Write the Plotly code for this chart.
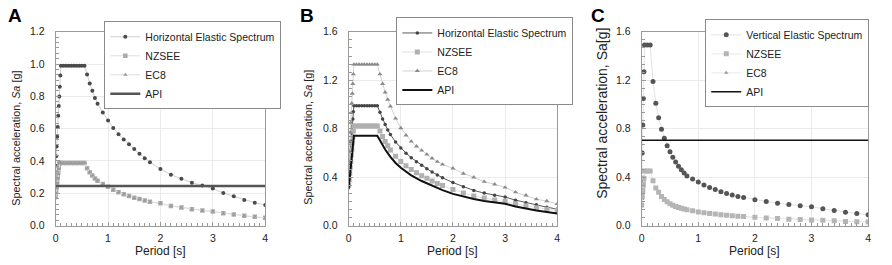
import plotly.graph_objects as go

# ---------------- DATA ----------------
# Panel A
T_A = [0, 0.01, 0.02, 0.03, 0.04, 0.05, 0.06, 0.07, 0.08, 0.09,
       0.1, 0.15, 0.2, 0.25, 0.3, 0.35, 0.4, 0.45, 0.5, 0.55,
       0.6, 0.65, 0.7, 0.75, 0.8, 0.9, 1.0, 1.1, 1.2, 1.3, 1.4, 1.5, 1.6, 1.7, 1.8,
       2.0, 2.2, 2.4, 2.6, 2.8, 3.0, 3.2, 3.4, 3.6, 3.8, 4.0]
hz_A = [0.37, 0.43, 0.49, 0.55, 0.61, 0.68, 0.74, 0.80, 0.86, 0.93,
        0.99, 0.99, 0.99, 0.99, 0.99, 0.99, 0.99, 0.99, 0.99, 0.99,
        0.936, 0.88, 0.835, 0.79, 0.755, 0.70, 0.65, 0.605, 0.565, 0.533, 0.503, 0.474, 0.445, 0.417, 0.392,
        0.35, 0.315, 0.29, 0.266, 0.248, 0.23, 0.201, 0.181, 0.158, 0.142, 0.128]
nz_A = [0.18, 0.21, 0.24, 0.27, 0.30, 0.33, 0.36, 0.388, 0.388, 0.388,
        0.388, 0.388, 0.388, 0.388, 0.388, 0.388, 0.388, 0.388, 0.388, 0.388,
        0.355, 0.33, 0.31, 0.292, 0.277, 0.257, 0.24, 0.222, 0.206, 0.194, 0.183, 0.173, 0.164, 0.155, 0.147,
        0.138, 0.122, 0.112, 0.101, 0.094, 0.087, 0.077, 0.069, 0.061, 0.054, 0.048]
ec8_A = [0.17, 0.20, 0.23, 0.26, 0.29, 0.32, 0.35, 0.385, 0.388, 0.388,
         0.388, 0.388, 0.388, 0.388, 0.388, 0.388, 0.388, 0.388, 0.388, 0.388,
         0.355, 0.33, 0.31, 0.292, 0.277, 0.257, 0.24, 0.222, 0.206, 0.194, 0.183, 0.173, 0.164, 0.155, 0.147,
         0.138, 0.122, 0.112, 0.101, 0.094, 0.087, 0.077, 0.069, 0.061, 0.054, 0.048]
api_T_A = [0, 4]
api_A = [0.245, 0.245]

# Panel B
T_B = T_A
hz_B = [0.40, 0.46, 0.52, 0.58, 0.64, 0.70, 0.76, 0.82, 0.88, 0.94,
        0.99, 0.99, 0.99, 0.99, 0.99, 0.99, 0.99, 0.99, 0.99, 0.99,
        0.935, 0.88, 0.835, 0.79, 0.752, 0.69, 0.64, 0.598, 0.56, 0.528, 0.498, 0.47, 0.443, 0.418, 0.395,
        0.355, 0.32, 0.29, 0.268, 0.25, 0.236, 0.21, 0.189, 0.171, 0.152, 0.136]
nz_B = [0.33, 0.38, 0.43, 0.48, 0.53, 0.58, 0.63, 0.68, 0.73, 0.78,
        0.822, 0.822, 0.822, 0.822, 0.822, 0.822, 0.822, 0.822, 0.822, 0.822,
        0.78, 0.735, 0.695, 0.66, 0.625, 0.572, 0.53, 0.495, 0.463, 0.437, 0.412, 0.39, 0.368, 0.348, 0.33,
        0.297, 0.268, 0.245, 0.227, 0.212, 0.2, 0.18, 0.163, 0.148, 0.135, 0.124]
ec8_B = [0.53, 0.61, 0.69, 0.77, 0.85, 0.93, 1.01, 1.09, 1.17, 1.25,
         1.33, 1.33, 1.33, 1.33, 1.33, 1.33, 1.33, 1.33, 1.33, 1.33,
         1.25, 1.17, 1.10, 1.04, 0.985, 0.885, 0.805, 0.745, 0.695, 0.655, 0.62, 0.587, 0.555, 0.528, 0.505,
         0.473, 0.43, 0.399, 0.362, 0.341, 0.315, 0.276, 0.25, 0.218, 0.202, 0.179]
api_T_B = [0, 0.1, 0.55, 0.6, 0.7, 0.8, 0.9, 1.0, 1.2, 1.4, 1.6, 1.8, 2.0,
           2.2, 2.4, 2.6, 2.8, 3.0, 3.2, 3.4, 3.6, 3.8, 4.0]
api_B = [0.30, 0.741, 0.741, 0.70, 0.628, 0.567, 0.517, 0.477, 0.415, 0.368, 0.328, 0.293, 0.262,
         0.24, 0.22, 0.203, 0.19, 0.18, 0.158, 0.14, 0.125, 0.112, 0.10]

# Panel C
T_C = [0, 0.01, 0.02, 0.03, 0.04, 0.05, 0.1, 0.15,
       0.2, 0.25, 0.3, 0.35, 0.4, 0.45, 0.5, 0.55, 0.6, 0.65, 0.7, 0.75, 0.8, 0.9,
       1.0, 1.1, 1.2, 1.3, 1.4, 1.5, 1.6, 1.7, 1.8,
       2.0, 2.2, 2.4, 2.6, 2.8, 3.0, 3.2, 3.4, 3.6, 3.8, 4.0]
vt_C = [0.37, 0.6, 0.83, 1.05, 1.27, 1.49, 1.49, 1.49,
        1.19, 1.01, 0.89, 0.795, 0.72, 0.66, 0.61, 0.565, 0.525, 0.49, 0.46, 0.435, 0.41, 0.385,
        0.36, 0.335, 0.315, 0.297, 0.28, 0.265, 0.252, 0.24, 0.232,
        0.213, 0.198, 0.185, 0.174, 0.164, 0.156, 0.139, 0.124, 0.111, 0.1, 0.089]
nz_C = [0.17, 0.24, 0.29, 0.34, 0.39, 0.45, 0.45, 0.45,
        0.37, 0.31, 0.275, 0.24, 0.215, 0.196, 0.18, 0.168, 0.158, 0.15, 0.143, 0.136, 0.13, 0.122,
        0.113, 0.106, 0.1, 0.095, 0.09, 0.086, 0.081, 0.077, 0.074,
        0.068, 0.063, 0.058, 0.053, 0.05, 0.047, 0.044, 0.039, 0.034, 0.031, 0.03]
ec8_C = [0.16, 0.22, 0.27, 0.32, 0.37, 0.45, 0.45, 0.45,
         0.37, 0.31, 0.275, 0.24, 0.215, 0.196, 0.18, 0.168, 0.158, 0.15, 0.143, 0.136, 0.13, 0.122,
         0.113, 0.106, 0.1, 0.095, 0.09, 0.086, 0.081, 0.077, 0.074,
         0.068, 0.063, 0.058, 0.053, 0.05, 0.047, 0.044, 0.039, 0.034, 0.031, 0.03]
api_T_C = [0, 4]
api_C = [0.705, 0.705]

# ---------------- FIGURE ----------------
W, H = 892, 265
FONT = "Arial, Liberation Sans, sans-serif"

def px_x(p):
    return p / W

def px_y(p):
    return 1 - p / H

fig = go.Figure()

def add(x, y, name, ax, leg, mode, mcolor=None, msym=None, msize=None, lcolor=None, lwidth=1, rank=None):
    kw = dict(x=x, y=y, name=name, mode=mode, legend=leg,
              xaxis="x" + ax, yaxis="y" + ax, hoverinfo="skip")
    if rank is not None:
        kw["legendrank"] = rank
    if "markers" in mode:
        kw["marker"] = dict(color=mcolor, symbol=msym, size=msize, line=dict(width=0))
    kw["line"] = dict(color=lcolor, width=lwidth)
    fig.add_trace(go.Scatter(**kw))

# A
add(T_A, hz_A, "Horizontal Elastic Spectrum", "", "legend", "lines+markers", "#4a4a4a", "circle", 4, "#cfcfcf", 1)
add(T_A, nz_A, "NZSEE", "", "legend", "lines+markers", "#ababab", "square", 4.5, "#dedede", 1)
add(T_A, ec8_A, "EC8", "", "legend", "lines+markers", "#9a9a9a", "triangle-up", 4, "#dedede", 1)
add(api_T_A, api_A, "API", "", "legend", "lines", lcolor="#555555", lwidth=2.5)
# B
add(T_B, hz_B, "Horizontal Elastic Spectrum", "2", "legend2", "lines+markers", "#444444", "circle", 3.5, "#5a5a5a", 1)
add(T_B, nz_B, "NZSEE", "2", "legend2", "lines+markers", "#b0b0b0", "square", 5, "#e0e0e0", 1)
add(T_B, ec8_B, "EC8", "2", "legend2", "lines+markers", "#8a8a8a", "triangle-up", 4.5, "#d2d2d2", 1)
add(api_T_B, api_B, "API", "2", "legend2", "lines", lcolor="#111111", lwidth=2)
# C
add(T_C, vt_C, "Vertical Elastic Spectrum", "3", "legend3", "lines+markers", "#555555", "circle", 5, "#e2e2e2", 1, rank=1)
add(T_C, ec8_C, "EC8", "3", "legend3", "lines+markers", "#9a9a9a", "triangle-up", 4, "#e8e8e8", 1, rank=3)
add(T_C, nz_C, "NZSEE", "3", "legend3", "lines+markers", "#b5b5b5", "square", 5, "#e8e8e8", 1, rank=2)
add(api_T_C, api_C, "API", "3", "legend3", "lines", lcolor="#111111", lwidth=1.5, rank=4)

panels = [
    ("", 53, 264, [0, 1.2], 0.2, [0.0, 0.2, 0.4, 0.6, 0.8, 1.0, 1.2]),
    ("2", 348, 558, [0, 1.6], 0.4, [0.0, 0.4, 0.8, 1.2, 1.6]),
    ("3", 643, 871, [0, 1.6], 0.4, [0.0, 0.4, 0.8, 1.2, 1.6]),
]
ytop, ybot = 27, 230
axcommon = dict(showline=True, linecolor="#9a9a9a", linewidth=1, mirror=True,
                showgrid=True, gridcolor="#ebebeb", gridwidth=1, zeroline=False,
                ticks="inside", ticklen=4, tickcolor="#9a9a9a",
                tickfont=dict(family=FONT, size=10.5, color="#222222"))
for ax, x0, x1, yr, dt, yt in panels:
    fig.layout["xaxis" + ax] = dict(axcommon, domain=[px_x(x0), px_x(x1)], anchor="y" + ax,
                                    range=[0, 4], tickmode="array", tickvals=[0, 1, 2, 3, 4],
                                    ticklabelstandoff=3,
                                    minor=dict(dtick=0.1, ticks="inside", ticklen=3, tickcolor="#9a9a9a", showgrid=False))
    fig.layout["yaxis" + ax] = dict(axcommon, domain=[px_y(ybot), px_y(ytop)], anchor="x" + ax,
                                    range=yr, tickmode="array", tickvals=yt,
                                    ticktext=[f"{v:.1f}" for v in yt], ticklabelstandoff=8,
                                    minor=dict(dtick=dt / 6, tick0=0, ticks="inside", ticklen=3,
                                               tickcolor="#9a9a9a", showgrid=False))

legcommon = dict(bgcolor="white", bordercolor="#8a8a8a", borderwidth=1,
                 font=dict(family=FONT, size=10.5, color="#222222"),
                 xanchor="left", yanchor="top", itemwidth=30, tracegroupgap=0)
fig.update_layout(
    width=W, height=H, margin=dict(l=0, r=0, t=0, b=0),
    paper_bgcolor="white", plot_bgcolor="white",
    font=dict(family=FONT, color="#222222"),
    legend=dict(legcommon, x=px_x(102), y=px_y(16)),
    legend2=dict(legcommon, x=px_x(396), y=px_y(12)),
    legend3=dict(legcommon, x=px_x(707), y=px_y(14)),
)

ann = []
for letter, xp in [("A", 3), ("B", 297), ("C", 590)]:
    ann.append(dict(text=f"<b>{letter}</b>", x=px_x(xp), y=px_y(-3), xref="paper", yref="paper",
                    xanchor="left", yanchor="top", showarrow=False,
                    font=dict(family=FONT, size=19, color="black")))
for xc in [(53 + 264) / 2, (348 + 558) / 2, (643 + 871) / 2]:
    ann.append(dict(text="Period [s]", x=px_x(xc), y=px_y(257), xref="paper", yref="paper",
                    xanchor="center", yanchor="middle", showarrow=False,
                    font=dict(family=FONT, size=12, color="#222222")))
for txt, xc, yc, fs in [("Spectral acceleration, <i>Sa</i> [g]", 13, 138, 10.8),
                        ("Spectral acceleration, <i>Sa</i> [g]", 307, 137, 10.8),
                        ("Spectral acceleration, Sa[g]", 603, 112, 14)]:
    ann.append(dict(text=txt, x=px_x(xc), y=px_y(yc), xref="paper", yref="paper",
                    xanchor="center", yanchor="middle", textangle=-90, showarrow=False,
                    font=dict(family=FONT, size=fs, color="#222222")))
fig.update_layout(annotations=ann)

fig.write_html("out.html", config={"displayModeBar": False},
               post_script="document.body.style.margin='0';")
